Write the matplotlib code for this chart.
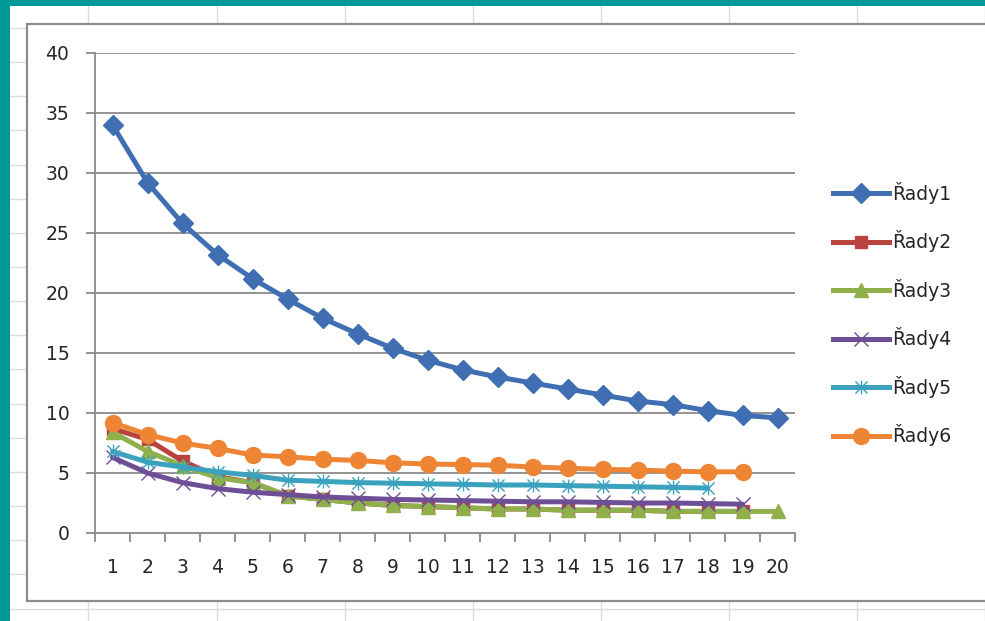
import matplotlib
matplotlib.use("Agg")
import matplotlib.pyplot as plt
from matplotlib.path import Path
from matplotlib.patches import Rectangle
from matplotlib.lines import Line2D

# ---- data ----
categories = list(range(1, 21))
series_names = ["Řady1", "Řady2", "Řady3", "Řady4", "Řady5", "Řady6"]
rady1 = [34.0, 29.2, 25.8, 23.2, 21.2, 19.5, 17.9, 16.6, 15.4, 14.4,
         13.6, 13.0, 12.5, 12.0, 11.5, 11.0, 10.7, 10.2, 9.8, 9.6]
rady2 = [8.7, 7.8, 6.0, 4.7, 4.2, 3.1, 2.8, 2.5, 2.3, 2.2,
         2.1, 2.0, 2.0, 1.9, 1.9, 1.9, 1.8, 1.8, 1.8]
rady3 = [8.4, 6.8, 5.6, 4.6, 4.2, 3.1, 2.8, 2.5, 2.3, 2.2,
         2.1, 2.0, 2.0, 1.9, 1.9, 1.9, 1.8, 1.8, 1.8, 1.8]
rady4 = [6.3, 5.0, 4.2, 3.7, 3.4, 3.2, 3.0, 2.9, 2.8, 2.75,
         2.7, 2.65, 2.6, 2.6, 2.55, 2.5, 2.5, 2.45, 2.4]
rady5 = [6.8, 5.9, 5.5, 5.1, 4.8, 4.4, 4.3, 4.2, 4.15, 4.1,
         4.05, 4.0, 4.0, 3.95, 3.9, 3.85, 3.8, 3.75]
rady6 = [9.2, 8.2, 7.5, 7.05, 6.5, 6.35, 6.15, 6.05, 5.85, 5.75,
         5.7, 5.65, 5.5, 5.4, 5.3, 5.25, 5.15, 5.1, 5.1]
y_ticks = [0, 5, 10, 15, 20, 25, 30, 35, 40]

all_series = [rady1, rady2, rady3, rady4, rady5, rady6]
colors = ["#3F6FB2", "#B8433F", "#8FB04B", "#6E4F96", "#3AA2BE", "#EE8535"]

# asterisk marker: two diagonals plus a vertical stroke
asterisk = Path(
    [(-1, -1), (1, 1), (-1, 1), (1, -1), (0, -1.15), (0, 1.15)],
    [Path.MOVETO, Path.LINETO, Path.MOVETO, Path.LINETO, Path.MOVETO, Path.LINETO],
)

marker_styles = [
    dict(marker="D", markersize=10.0, markeredgewidth=1.0),
    dict(marker="s", markersize=9.0, markeredgewidth=1.0),
    dict(marker="^", markersize=10.0, markeredgewidth=1.0),
    dict(marker="x", markersize=10.0, markeredgewidth=1.0),
    dict(marker=asterisk, markersize=10.0, markeredgewidth=1.0, markerfacecolor="none"),
    dict(marker="o", markersize=11.5, markeredgewidth=1.0),
]

W, H = 985, 621
fig = plt.figure(figsize=(W / 100, H / 100), dpi=100)
fig.patch.set_facecolor("white")

# ---- worksheet background: cell lines, chart frame, window edge ----
bg = fig.add_axes([0, 0, 1, 1], zorder=0)
bg.set_xlim(0, W)
bg.set_ylim(H, 0)
bg.axis("off")
cell_color = "#D8DCE3"
for xv in [88, 217, 345, 473, 601, 729, 857, 985]:
    bg.plot([xv, xv], [0, H], color=cell_color, lw=1.0)
yv = 28.0
while yv < H:
    bg.plot([0, W], [yv, yv], color=cell_color, lw=1.0)
    yv += 34.15
bg.add_patch(Rectangle((27, 24), W, 577, facecolor="white",
                       edgecolor="#8C8C8C", lw=1.6, zorder=3))
bg.add_patch(Rectangle((0, 0), 10, H, facecolor="#00999A", edgecolor="none", zorder=4))
bg.add_patch(Rectangle((0, 0), W, 6, facecolor="#00999A", edgecolor="none", zorder=4))

# ---- plot area ----
left, right, top, bottom = 95, 795, 53, 533
ax = fig.add_axes([left / W, 1 - bottom / H, (right - left) / W, (bottom - top) / H],
                  zorder=2)
ax.set_facecolor("none")
ax.set_xlim(0.5, 20.5)
ax.set_ylim(0, 40)

grid_color = "#8A8A8A"
for yt in y_ticks[1:]:
    ax.axhline(yt, color=grid_color, lw=1.3, zorder=1)

for vals, name, col, ms in zip(all_series, series_names, colors, marker_styles):
    kw = dict(ms)
    kw.setdefault("markerfacecolor", col)
    ax.plot(categories[:len(vals)], vals, color=col, lw=3.6, label=name,
            markeredgecolor=col, solid_capstyle="round", solid_joinstyle="round",
            zorder=3, **kw)

for side in ["top", "right"]:
    ax.spines[side].set_visible(False)
for side in ["left", "bottom"]:
    ax.spines[side].set_color(grid_color)
    ax.spines[side].set_linewidth(1.3)

text_color = "#262626"
ax.set_yticks(y_ticks)
ax.set_yticklabels([str(v) for v in y_ticks])
ax.tick_params(axis="y", direction="out", length=6.5, width=1.3, color=grid_color,
               pad=12, labelsize=13.5, labelcolor=text_color)

ax.set_xticks([c - 0.5 for c in categories] + [20.5])
ax.set_xticklabels([])
ax.tick_params(axis="x", which="major", direction="out", length=6.5, width=1.3,
               color=grid_color)
ax.set_xticks(categories, minor=True)
ax.set_xticklabels([str(c) for c in categories], minor=True)
ax.tick_params(axis="x", which="minor", length=0, pad=18, labelsize=13.5,
               labelcolor=text_color)

# ---- legend ----
handles = []
for name, col, ms in zip(series_names, colors, marker_styles):
    kw = dict(ms)
    kw.setdefault("markerfacecolor", col)
    handles.append(Line2D([0], [0], color=col, lw=3.6, markeredgecolor=col, **kw))
fig.legend(handles, series_names, loc="upper left",
           bbox_to_anchor=(833 / W, 1 - 182 / H), frameon=False,
           fontsize=13.5, handlelength=3.0, handletextpad=0.15,
           labelspacing=1.41, borderpad=0, borderaxespad=0,
           labelcolor=text_color)

fig.savefig("out.png", dpi=100)
